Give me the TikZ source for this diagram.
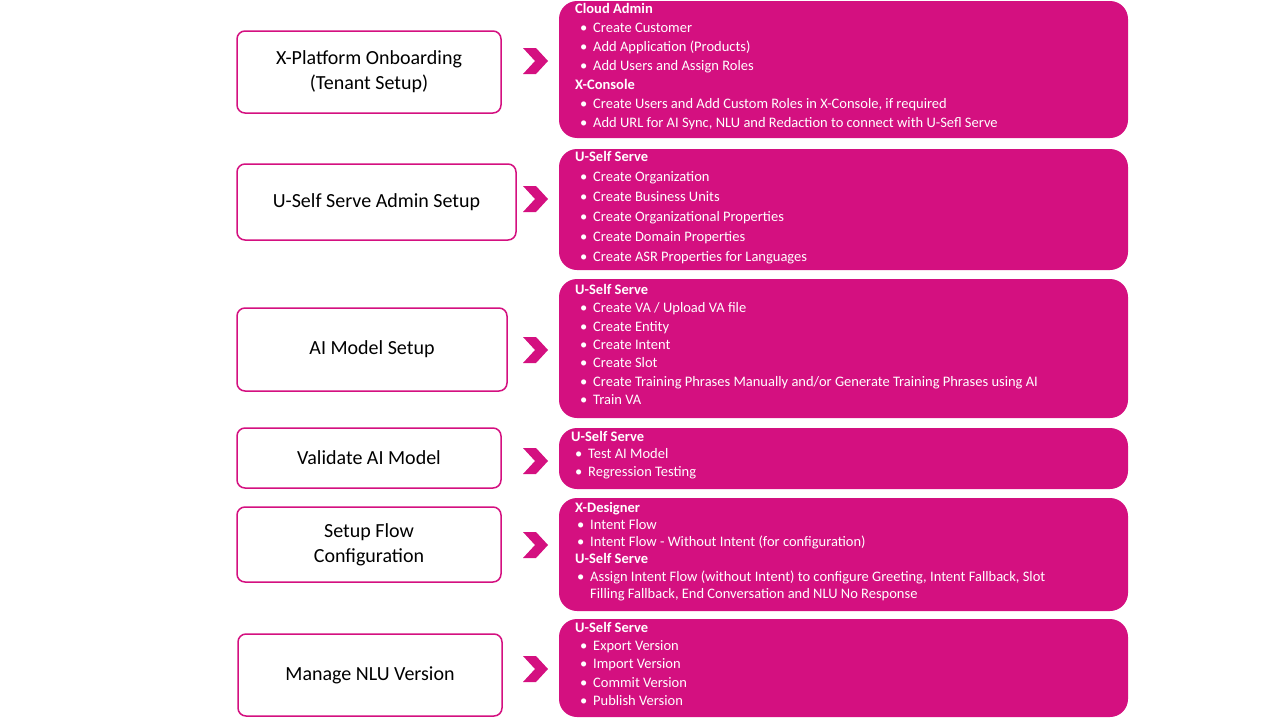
\documentclass[tikz,border=0pt]{standalone}
\usepackage{fontspec}
\setmainfont{Carlito}
\usepackage{xcolor}
\usetikzlibrary{positioning}
\definecolor{magenta}{RGB}{212,16,128}
\newcommand{\bul}[1]{\hspace*{5pt}\makebox[13pt][l]{\textbullet}#1}
\newcommand{\hd}[1]{\textbf{#1}}

\begin{document}
\begin{tikzpicture}[x=1pt, y=-1pt,
    stage/.style={rectangle, draw=magenta, line width=1.5pt, fill=white, rounded corners=8pt, font=\fontsize{20}{25}\selectfont, align=center},
    lines/.style={anchor=north west, inner sep=0pt, text=white, align=left, font=\fontsize{14.5}{#1}\selectfont},
    chev/.style={fill=magenta, draw=none}
]
\useasboundingbox (0,0) rectangle (1280,720);

% stages on the left
\node[stage, minimum width=264pt, minimum height=82pt] (onboard) at (369,72) {X-Platform Onboarding\\(Tenant Setup)};
\node[stage, minimum width=279pt, minimum height=76pt] (admin) at (376.5,202) {U-Self Serve Admin Setup};
\node[stage, minimum width=270pt, minimum height=83pt] (model) at (372,349.5) {AI Model Setup};
\node[stage, minimum width=264pt, minimum height=60pt] (validate) at (369,458) {Validate AI Model};
\node[stage, minimum width=264pt, minimum height=75pt] (flow) at (369,544.5) {Setup Flow\\Configuration};
\node[stage, minimum width=264pt, minimum height=82pt] (nlu) at (370,675) {Manage NLU Version};

% detail panels on the right
\foreach \top/\bot in {1/138, 149/270, 279/418, 428/489, 498/611, 619/717}
  \fill[magenta, rounded corners=18pt] (559,\top) rectangle (1128,\bot);

% chevrons
\foreach \cy in {61,199,350,461,545,669}
  \fill[chev] (523,\cy-13) -- (536,\cy-13) -- (548,\cy) -- (536,\cy+13) -- (523,\cy+13) -- (535,\cy) -- cycle;

% panel texts
\node[lines=19] (onboard-txt) at (575,3) {\hd{Cloud Admin}\\\bul{Create Customer}\\\bul{Add Application (Products)}\\\bul{Add Users and Assign Roles}\\\hd{X-Console}\\\bul{Create Users and Add Custom Roles in X-Console, if required}\\\bul{Add URL for AI Sync, NLU and Redaction to connect with U-Sefl Serve}};
\node[lines=20] (admin-txt) at (575,151) {\hd{U-Self Serve}\\\bul{Create Organization}\\\bul{Create Business Units}\\\bul{Create Organizational Properties}\\\bul{Create Domain Properties}\\\bul{Create ASR Properties for Languages}};
\node[lines=18.4] (model-txt) at (575,284) {\hd{U-Self Serve}\\\bul{Create VA / Upload VA file}\\\bul{Create Entity}\\\bul{Create Intent}\\\bul{Create Slot}\\\bul{Create Training Phrases Manually and/or Generate Training Phrases using AI}\\\bul{Train VA}};
\node[lines=17.5] (validate-txt) at (571,431) {\hd{U-Self Serve}\\\hspace*{-1pt}\bul{Test AI Model}\\\hspace*{-1pt}\bul{Regression Testing}};
\node[lines=17.2] (flow-txt) at (575,502) {\hd{X-Designer}\\\hspace*{-3pt}\bul{Intent Flow}\\\hspace*{-3pt}\bul{Intent Flow - Without Intent (for configuration)}\\\hd{U-Self Serve}\\\hspace*{-3pt}\bul{Assign Intent Flow (without Intent) to configure Greeting, Intent Fallback, Slot}\\\hspace*{15pt}Filling Fallback, End Conversation and NLU No Response};
\node[lines=18.3] (nlu-txt) at (575,622) {\hd{U-Self Serve}\\\bul{Export Version}\\\bul{Import Version}\\\bul{Commit Version}\\\bul{Publish Version}};
\end{tikzpicture}
\end{document}
